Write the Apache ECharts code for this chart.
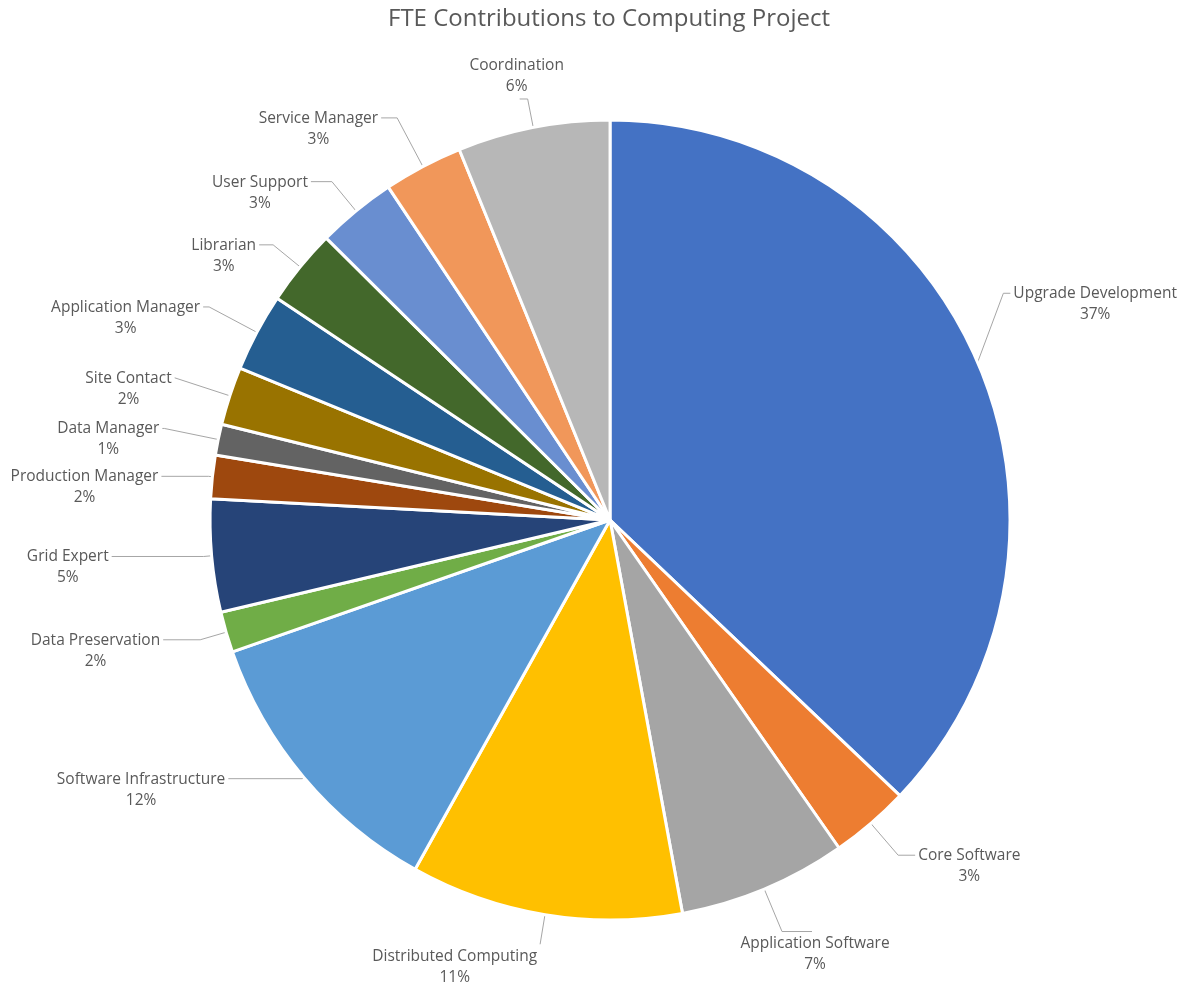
<!DOCTYPE html>
<html>
<head>
<meta charset="utf-8">
<title>FTE Contributions to Computing Project</title>
<script src="https://cdn.jsdelivr.net/npm/echarts@6/dist/echarts.min.js"></script>
<style>
  html, body { margin: 0; padding: 0; background: #ffffff; }
  #chart { width: 1185px; height: 989px; }
</style>
</head>
<body>
<div id="chart"></div>
<script>
// Areas of the computing project, clockwise from the top
const categories = [
  'Upgrade Development', 'Core Software', 'Application Software',
  'Distributed Computing', 'Software Infrastructure', 'Data Preservation',
  'Grid Expert', 'Production Manager', 'Data Manager', 'Site Contact',
  'Application Manager', 'Librarian', 'User Support', 'Service Manager',
  'Coordination'
];

// Share of FTE per area (percent)
const fteShare = [37.1, 3.2, 6.8, 11.0, 11.55, 1.65, 4.55, 1.75, 1.25, 2.35, 3.15, 3.1, 3.2, 3.2, 6.15];

// Office-style palette, one colour per area
const sliceColors = [
  '#4472C4', '#ED7D31', '#A5A5A5', '#FFC000', '#5B9BD5', '#70AD47',
  '#264478', '#9E480E', '#636363', '#997300', '#255E91', '#43682B',
  '#698ED0', '#F1975A', '#B7B7B7'
];

// Leader line per slice: [radial part, horizontal part]
const leaderLengths = [
  [28, 7], [42, 17], [46, 30], [30, 0], [2, 74], [27, 37], [8, 92], [4, 47],
  [55, 2], [58, 0], [54, 6], [35, 14], [38, 21], [55, 16], [29, 8]
];

// Where the text block sits relative to the end of its leader line
const labelPlacement = [
  'side', 'side', 'below', 'below', 'side', 'side', 'side', 'side',
  'side', 'side', 'side', 'side', 'side', 'side', 'above'
];
const labelAlign = [
  null, null, 'center', 'right', null, null, null, null,
  null, null, null, null, null, null, 'center'
];
// Extra vertical lift of the largest slice's label (its leader bends up to it)
const upgradeLift = -58;

const total = fteShare.reduce((a, b) => a + b, 0);
const pct = v => Math.round(v / total * 100) + '%';

const labelFont = {
  fontFamily: 'Open Sans',
  fontSize: 15.5,
  color: '#595959',
  align: 'center'
};

const chart = echarts.init(document.getElementById('chart'), null, { renderer: 'canvas' });

chart.setOption({
  animation: false,
  backgroundColor: '#ffffff',
  graphic: [{
    type: 'text',
    x: 609,
    y: 19,
    style: {
      text: 'FTE Contributions to Computing Project',
      fontFamily: 'Open Sans',
      fontSize: 24,
      fill: '#595959',
      align: 'center',
      verticalAlign: 'middle'
    }
  }],
  series: [{
    type: 'pie',
    center: ['51.48%', '52.58%'],
    radius: 400,
    startAngle: 90,
    clockwise: true,
    avoidLabelOverlap: false,
    minShowLabelAngle: 0,
    data: categories.map((name, i) => ({
      name: name,
      value: fteShare[i],
      itemStyle: { color: sliceColors[i] },
      labelLine: { length: leaderLengths[i][0], length2: leaderLengths[i][1] }
    })),
    itemStyle: {
      borderColor: '#ffffff',
      borderWidth: 3
    },
    label: {
      show: true,
      position: 'outside',
      alignTo: 'none',
      distanceToLabelLine: 3,
      formatter: p => labelPlacement[p.dataIndex] === 'side'
        // the leader meets the name line; the percentage sits centred below it
        ? '{a|' + p.name + '}\n{b|' + pct(p.value) + '}'
        : '{c|' + p.name + '}\n{c|' + pct(p.value) + '}',
      rich: {
        a: Object.assign({ lineHeight: 1 }, labelFont),
        b: Object.assign({ lineHeight: 41 }, labelFont),
        c: Object.assign({ lineHeight: 21 }, labelFont)
      }
    },
    labelLayout: params => {
      const i = params.dataIndex;
      const place = labelPlacement[i];
      const out = { verticalAlign: place === 'above' ? 'bottom' : 'top' };
      if (labelAlign[i]) out.align = labelAlign[i];
      if (place === 'below') out.dy = 2;
      if (place === 'above') out.dy = -2;
      if (i === 0 && params.labelLinePoints) {
        const pts = params.labelLinePoints;
        const end = pts[pts.length - 1];
        out.dy = upgradeLift;
        out.labelLinePoints = [
          pts[0],
          [end[0] - leaderLengths[0][1], end[1] + upgradeLift],
          [end[0], end[1] + upgradeLift]
        ];
      }
      return out;
    },
    labelLine: {
      show: true,
      lineStyle: { color: '#A6A6A6', width: 1 }
    },
    emphasis: { disabled: true }
  }]
});
</script>
</body>
</html>
